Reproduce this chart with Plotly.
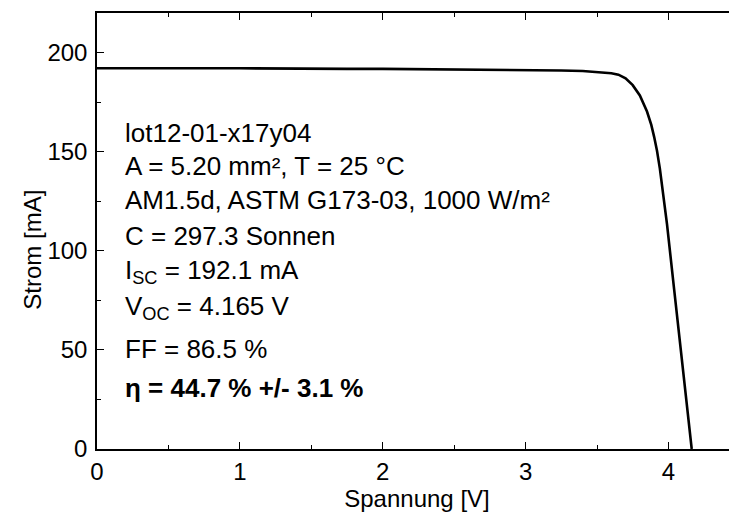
import plotly.graph_objects as go

# I-V curve data
spannung = [0.00, 0.25, 0.50, 0.75, 1.00, 1.25, 1.50, 1.75, 2.00, 2.25, 2.50,
            2.75, 3.00, 3.25, 3.40, 3.50, 3.60, 3.65, 3.70, 3.75, 3.80, 3.85,
            3.88, 3.90, 3.92, 3.94, 3.96, 3.99, 4.04, 4.09, 4.13, 4.163]
strom = [192.1, 192.2, 192.0, 192.1, 192.1, 191.9, 192.0, 191.8, 191.8, 191.7,
         191.5, 191.4, 191.2, 191.0, 190.7, 190.3, 189.6, 188.9, 187.0, 183.6,
         178.4, 170.3, 163.5, 157.5, 150.5, 141.5, 130.5, 113.5, 80.5, 47.5,
         21.0, 0.0]

x_ticks = [0, 1, 2, 3, 4]
y_ticks = [0, 50, 100, 150, 200]

info_lines = [
    "lot12-01-x17y04",
    "A = 5.20 mm², T = 25 °C",
    "AM1.5d, ASTM G173-03, 1000 W/m²",
    "C = 297.3 Sonnen",
    "I<sub>SC</sub> = 192.1 mA",
    "V<sub>OC</sub> = 4.165 V",
    "FF = 86.5 %",
    "<b>η = 44.7 % +/- 3.1 %</b>",
]
info_y = [159.7, 142.6, 125.4, 107.7, 89.5, 71.4, 50.7, 31.0]

FONT = "Liberation Sans, Arial, sans-serif"

fig = go.Figure()
fig.add_trace(go.Scatter(x=spannung, y=strom, mode="lines",
                         line=dict(color="black", width=2.6),
                         showlegend=False, hoverinfo="skip"))
# empty trace so that the right-hand tick axis is drawn
fig.add_trace(go.Scatter(x=[], y=[], yaxis="y2", mode="lines",
                         showlegend=False, hoverinfo="skip"))

for txt, yy in zip(info_lines, info_y):
    fig.add_annotation(x=0.179, y=yy, xref="x", yref="y", text=txt,
                       showarrow=False, xanchor="left", yanchor="middle",
                       font=dict(family=FONT, size=26, color="black"))

fig.add_annotation(x=-0.101, y=0.458, xref="paper", yref="paper",
                   text="Strom [mA]", textangle=-90, showarrow=False,
                   xanchor="center", yanchor="middle",
                   font=dict(family=FONT, size=24, color="black"))

axis_common = dict(showgrid=False, zeroline=False, ticks="inside",
                   tickcolor="black", tickwidth=1.3, ticklen=7,
                   tickfont=dict(family=FONT, size=24, color="black"))

# the page adds an 8px body margin, so the figure is sized to fit the window
fig.update_layout(
    width=729, height=504,
    margin=dict(l=89, r=0, t=5, b=63),
    paper_bgcolor="white", plot_bgcolor="white",
    xaxis=dict(range=[0, 4.48], tickvals=x_ticks,
               showline=True, linecolor="black", linewidth=1.5,
               mirror="ticks", ticklabelstandoff=0, automargin=False,
               minor=dict(ticks="inside", dtick=0.5, tick0=0, ticklen=4,
                          tickcolor="black", tickwidth=1.3),
               title=dict(text="Spannung [V]", standoff=4,
                          font=dict(family=FONT, size=24, color="black")),
               **axis_common),
    yaxis=dict(range=[0, 220], tickvals=y_ticks,
               showline=True, linecolor="black", linewidth=1.5,
               mirror=False, ticklabelstandoff=3, automargin=False,
               minor=dict(ticks="inside", dtick=25, tick0=0, ticklen=4,
                          tickcolor="black", tickwidth=1.3),
               **axis_common),
    yaxis2=dict(range=[0, 220], tickvals=y_ticks, overlaying="y",
                side="right", anchor="x", showline=False,
                showticklabels=False, automargin=False,
                minor=dict(ticks="inside", dtick=25, tick0=0, ticklen=4,
                           tickcolor="black", tickwidth=1.3),
                **{k: v for k, v in axis_common.items() if k != "tickfont"}),
)

fig.write_html("out.html")
